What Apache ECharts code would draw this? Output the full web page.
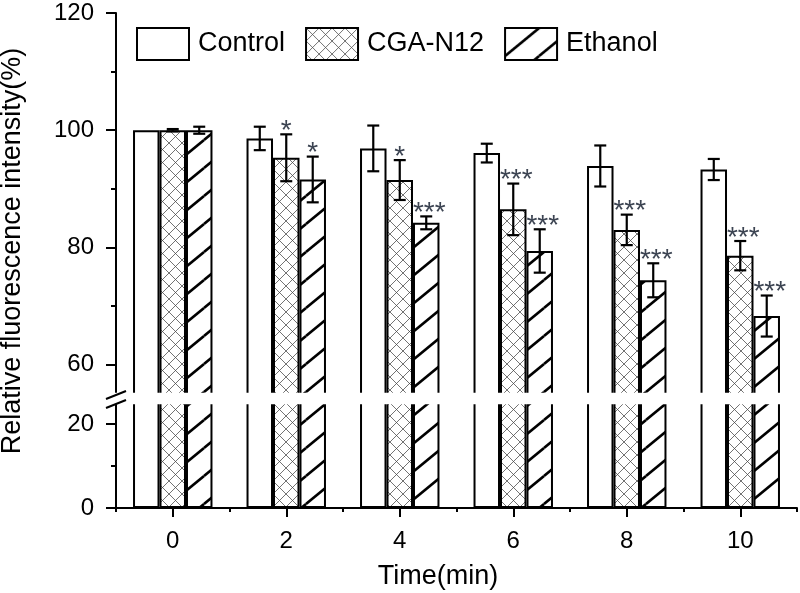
<!DOCTYPE html>
<html>
<head>
<meta charset="utf-8">
<script src="https://cdn.jsdelivr.net/npm/echarts@6/dist/echarts.min.js"></script>
<style>html,body{margin:0;padding:0;background:#fff}#c{width:800px;height:593px}</style>
</head>
<body>
<div id="c"></div>
<script>
// ---- data ----
const categories = ['0', '2', '4', '6', '8', '10'];
const seriesNames = ['Control', 'CGA-N12', 'Ethanol'];
const control    = [100, 98.6, 96.9, 96.1, 93.9, 93.3];
const controlErr = [0, 2.0, 3.9, 1.6, 3.5, 1.8];
const cga        = [100, 95.3, 91.5, 86.5, 83.0, 78.6];
const cgaErr     = [0.2, 4.0, 3.4, 4.4, 2.6, 2.5];
const ethanol    = [100, 91.6, 84.2, 79.4, 74.4, 68.3];
const ethanolErr = [0.6, 3.9, 1.1, 3.7, 2.9, 3.5];
const controlSig = ['', '', '', '', '', ''];
const cgaSig     = ['', '*', '*', '***', '***', '***'];
const ethanolSig = ['', '*', '***', '***', '***', '***'];
const topLabels = [60, 80, 100, 120];
const topMinor = [70, 90, 110];
const bottomLabels = [0, 20];
const bottomMinor = [10];
const xTitle = 'Time(min)';
const yTitle = 'Relative fluorescence intensity(%)';

// ---- styling ----
const FONT = "'Liberation Sans', Arial, sans-serif";
const GRID_LEFT = 116, GRID_RIGHT = 3;
const TOP_MIN = 55, TOP_MAX = 120, BOT_MIN = 0, BOT_MAX = 25;

function crossPattern() {
  const s = 13;
  const c = document.createElement('canvas');
  c.width = s; c.height = s;
  const g = c.getContext('2d');
  g.fillStyle = '#fff'; g.fillRect(0, 0, s, s);
  g.strokeStyle = '#444'; g.lineWidth = 0.75;
  [[0,0],[s,0],[-s,0],[0,s],[0,-s]].forEach(([dx,dy]) => {
    g.beginPath();
    g.moveTo(dx, dy); g.lineTo(dx + s, dy + s);
    g.moveTo(dx, dy + s); g.lineTo(dx + s, dy);
    g.stroke();
  });
  return c;
}
function slashPattern() {
  const w = 34, h = 28;
  const c = document.createElement('canvas');
  c.width = w; c.height = h;
  const g = c.getContext('2d');
  g.fillStyle = '#fff'; g.fillRect(0, 0, w, h);
  g.strokeStyle = '#000'; g.lineWidth = 2.6;
  [[0,0],[w,0],[-w,0],[0,h],[0,-h]].forEach(([dx,dy]) => {
    g.beginPath();
    g.moveTo(dx, dy + h); g.lineTo(dx + w, dy);
    g.stroke();
  });
  return c;
}
const fills = ['#fff', {image: crossPattern(), repeat: 'repeat'}, {image: slashPattern(), repeat: 'repeat'}];
const values = [control, cga, ethanol];
const errs = [controlErr, cgaErr, ethanolErr];
const sigs = [controlSig, cgaSig, ethanolSig];

const chart = echarts.init(document.getElementById('c'), null, {renderer: 'canvas'});

function errRenderer(k) {
  return function (params, api) {
    const i = api.value(0), v = api.value(1), e = api.value(2);
    const band = api.size([1, 0])[0];
    const bw = band * 0.7 / 3;
    const cx = api.coord([i, v])[0] - band * 0.35 + (k + 0.5) * bw;
    const yt = api.coord([i, v + e])[1];
    const yb = api.coord([i, v - e])[1];
    const ls = {stroke: '#000', lineWidth: 2.2};
    const children = [];
    if (e > 0) {
      children.push(
        {type: 'line', shape: {x1: cx, y1: yt, x2: cx, y2: yb}, style: ls},
        {type: 'line', shape: {x1: cx - 6, y1: yt, x2: cx + 6, y2: yt}, style: ls},
        {type: 'line', shape: {x1: cx - 6, y1: yb, x2: cx + 6, y2: yb}, style: ls}
      );
    }
    const s = sigs[k][params.dataIndex];
    if (s) {
      children.push({
        type: 'text', x: cx + (s.length > 1 ? 3 : 0), y: yt - 3,
        style: {text: s, fontSize: 28, fontFamily: FONT, fill: '#3c4452',
                align: 'center', verticalAlign: 'middle'}
      });
    }
    return {type: 'group', children};
  };
}

const axisLineStyle = {color: '#000', width: 2};
function yAxisPair(grid, min, max, labels, minor) {
  return [
    {gridIndex: grid, type: 'value', min, max, position: 'left',
     axisLine: {show: true, lineStyle: axisLineStyle},
     axisTick: {show: true, length: 10, customValues: labels, lineStyle: axisLineStyle},
     axisLabel: {show: true, customValues: labels, fontSize: 24, color: '#000', fontFamily: FONT, margin: 22},
     splitLine: {show: false}},
    {gridIndex: grid, type: 'value', min, max, position: 'left',
     axisLine: {show: false},
     axisTick: {show: true, length: 5, customValues: minor, lineStyle: axisLineStyle},
     axisLabel: {show: false},
     splitLine: {show: false}}
  ];
}

const series = [];
[0, 1].forEach(g => {
  seriesNames.forEach((name, k) => {
    series.push({
      type: 'bar', name,
      xAxisIndex: g === 0 ? 0 : 1, yAxisIndex: g === 0 ? 0 : 2,
      barGap: '0%', barCategoryGap: '30%',
      itemStyle: {color: fills[k], borderColor: '#000', borderWidth: 2},
      emphasis: {disabled: true},
      data: values[k]
    });
  });
});
seriesNames.forEach((name, k) => {
  series.push({
    type: 'custom', name: 'err-' + name,
    xAxisIndex: 0, yAxisIndex: 0, z: 5, clip: false,
    dimensions: ['x', 'y', 'e'],
    encode: {x: 0, y: 1},
    data: values[k].map((v, i) => [i, v, errs[k][i]]),
    renderItem: errRenderer(k)
  });
});

chart.setOption({
  animation: false,
  backgroundColor: '#fff',
  legend: {
    left: 136, top: 27, padding: 0, itemWidth: 52, itemHeight: 32, itemGap: 20, icon: 'rect',
    textStyle: {fontSize: 27, fontFamily: FONT, color: '#000', padding: [0, 0, 0, 4]},
    data: seriesNames
  },
  grid: [
    {left: GRID_LEFT, right: GRID_RIGHT, top: 13, bottom: 199, outerBoundsMode: 'none'},
    {left: GRID_LEFT, right: GRID_RIGHT, top: 403, bottom: 85, outerBoundsMode: 'none'}
  ],
  xAxis: [
    {gridIndex: 0, type: 'category', data: categories, show: false},
    {gridIndex: 1, type: 'category', data: categories, position: 'bottom',
     axisLine: {show: true, lineStyle: axisLineStyle},
     axisTick: {show: true, alignWithLabel: true, length: 9, lineStyle: axisLineStyle},
     axisLabel: {fontSize: 24, color: '#000', fontFamily: FONT, margin: 21},
     splitLine: {show: false}},
    {gridIndex: 1, type: 'category', data: categories, position: 'bottom',
     axisLine: {show: false},
     axisTick: {show: true, alignWithLabel: false, length: 4, lineStyle: axisLineStyle},
     axisLabel: {show: false},
     splitLine: {show: false}}
  ],
  yAxis: [].concat(
    yAxisPair(0, TOP_MIN, TOP_MAX, topLabels, topMinor),
    yAxisPair(1, BOT_MIN, BOT_MAX, bottomLabels, bottomMinor)
  ),
  series
});

const yA = chart.convertToPixel({yAxisIndex: 0}, TOP_MIN);
const yB = chart.convertToPixel({yAxisIndex: 2}, BOT_MAX);
const W = chart.getWidth();
chart.setOption({
  graphic: [
    {type: 'rect', z: 100, shape: {x: GRID_LEFT - 12, y: yA - 1.2, width: W, height: yB - yA + 2.4},
     style: {fill: '#fff'}},
    {type: 'line', z: 101, shape: {x1: GRID_LEFT - 10, y1: yA + 5, x2: GRID_LEFT + 10, y2: yA - 3},
     style: {stroke: '#000', lineWidth: 2}},
    {type: 'line', z: 101, shape: {x1: GRID_LEFT - 10, y1: yB + 5, x2: GRID_LEFT + 10, y2: yB - 3},
     style: {stroke: '#000', lineWidth: 2}},
    {type: 'text', z: 101, x: 13, y: 251, rotation: Math.PI / 2,
     style: {text: yTitle, fontSize: 27, fontFamily: FONT, fill: '#000', align: 'center', verticalAlign: 'middle'}},
    {type: 'text', z: 101, x: 438, y: 577,
     style: {text: xTitle, fontSize: 27, fontFamily: FONT, fill: '#000', align: 'center', verticalAlign: 'middle'}}
  ]
});
</script>
</body>
</html>
